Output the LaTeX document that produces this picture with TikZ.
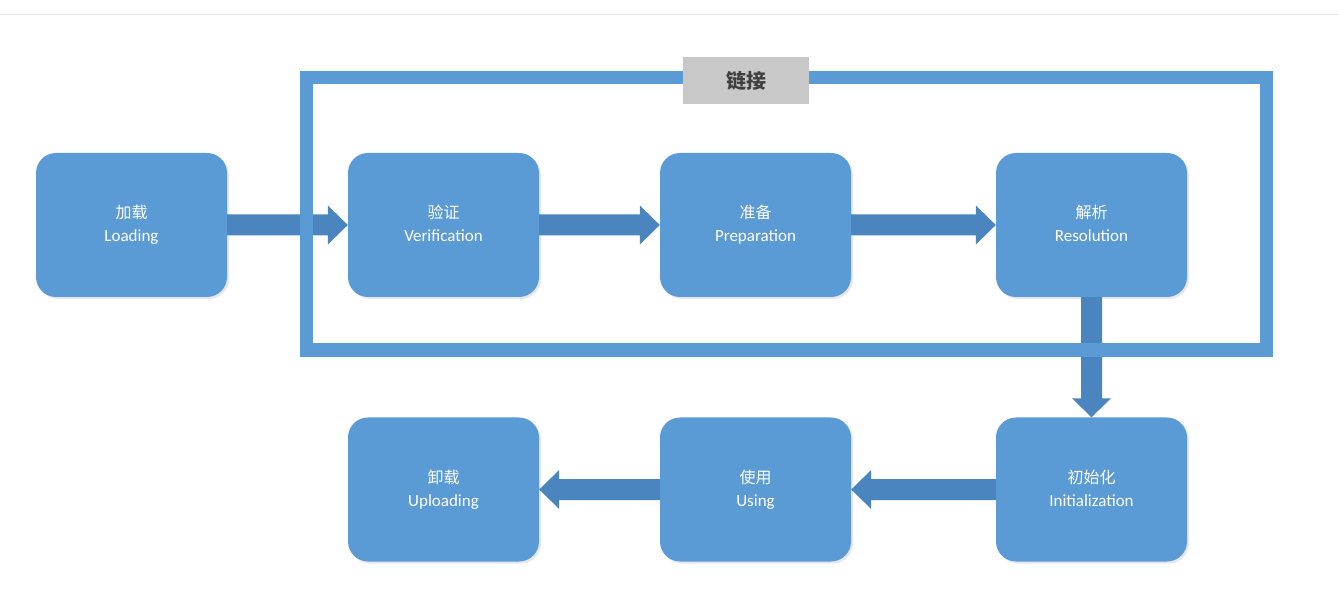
\documentclass[tikz,border=0pt]{standalone}
\usepackage{fontspec}
\setmainfont{Carlito}
\newfontfamily\cjk{Noto Sans CJK SC}
\usetikzlibrary{calc}
\definecolor{nodeblue}{HTML}{5B9BD5}
\definecolor{arrowblue}{HTML}{4A85BF}
\definecolor{frameblue}{HTML}{5B9BD5}
\definecolor{labelgray}{HTML}{C8C8C8}
\definecolor{labeltext}{HTML}{404040}
\definecolor{topline}{HTML}{E6E6E6}
\definecolor{shadowgray}{HTML}{E4E8EE}
\tikzset{
  stage/.style={fill=nodeblue, draw=none, rounded corners=20pt,
    minimum width=191pt, minimum height=144pt, inner sep=0pt,
    text=white, align=center, font=\fontsize{17}{23}\selectfont},
  stageshadow/.style={fill=shadowgray, draw=none, rounded corners=20pt,
    minimum width=191pt, minimum height=144pt, inner sep=0pt}
}
\newcommand\barRight[2]{\fill[arrowblue] let \p1=(#1.east), \p2=(#2.west) in
  (\x1,\y1+10.5pt) -- (\x2-20pt,\y1+10.5pt) -- (\x2-20pt,\y1+19.5pt) -- (\x2,\y1)
  -- (\x2-20pt,\y1-19.5pt) -- (\x2-20pt,\y1-10.5pt) -- (\x1,\y1-10.5pt) -- cycle;}
\newcommand\barLeft[2]{\fill[arrowblue] let \p1=(#1.west), \p2=(#2.east) in
  (\x1,\y1+10.5pt) -- (\x2+20pt,\y1+10.5pt) -- (\x2+20pt,\y1+19.5pt) -- (\x2,\y1)
  -- (\x2+20pt,\y1-19.5pt) -- (\x2+20pt,\y1-10.5pt) -- (\x1,\y1-10.5pt) -- cycle;}
\newcommand\barDown[2]{\fill[arrowblue] let \p1=(#1.south), \p2=(#2.north) in
  (\x1-10.5pt,\y1) -- (\x1-10.5pt,\y2+19pt) -- (\x1-19.5pt,\y2+19pt) -- (\x1,\y2)
  -- (\x1+19.5pt,\y2+19pt) -- (\x1+10.5pt,\y2+19pt) -- (\x1+10.5pt,\y1) -- cycle;}
\newcommand\stagebox[4]{%
  \node[stageshadow] at ($(#2)+(2,2)$) {};
  \node[stage] (#1) at (#2) {{\cjk\fontsize{16}{23}\selectfont #3}\\#4\vphantom{Agy}};}
\begin{document}
\begin{tikzpicture}[x=1pt,y=-1pt]
\useasboundingbox (0,0) rectangle (1339,609);
\coordinate (tl) at (0,15);
\coordinate (tr) at (1339,15);
\draw[topline, line width=1pt] (tl) -- (tr);

\stagebox{load}{131.5,225}{加载}{Loading}
\stagebox{verif}{443.5,225}{验证}{Verification}
\stagebox{prep}{755.5,225}{准备}{Preparation}
\stagebox{res}{1091.5,225}{解析}{Resolution}
\stagebox{upl}{443.5,489.5}{卸载}{Uploading}
\stagebox{use}{755.5,489.5}{使用}{Using}
\stagebox{init}{1091.5,489.5}{初始化}{Initialization}

\barRight{load}{verif}
\barRight{verif}{prep}
\barRight{prep}{res}
\barDown{res}{init}
\barLeft{init}{use}
\barLeft{use}{upl}

\node[draw=frameblue, line width=13.5pt, minimum width=960pt, minimum height=272.5pt, inner sep=0pt] (frame) at (786.5,213.75) {};
\node[fill=labelgray, minimum width=126pt, minimum height=47pt, inner sep=0pt, text=labeltext, font=\cjk\bfseries\fontsize{20}{24}\selectfont] (link) at (746,80.5) {链接};
\end{tikzpicture}
\end{document}
